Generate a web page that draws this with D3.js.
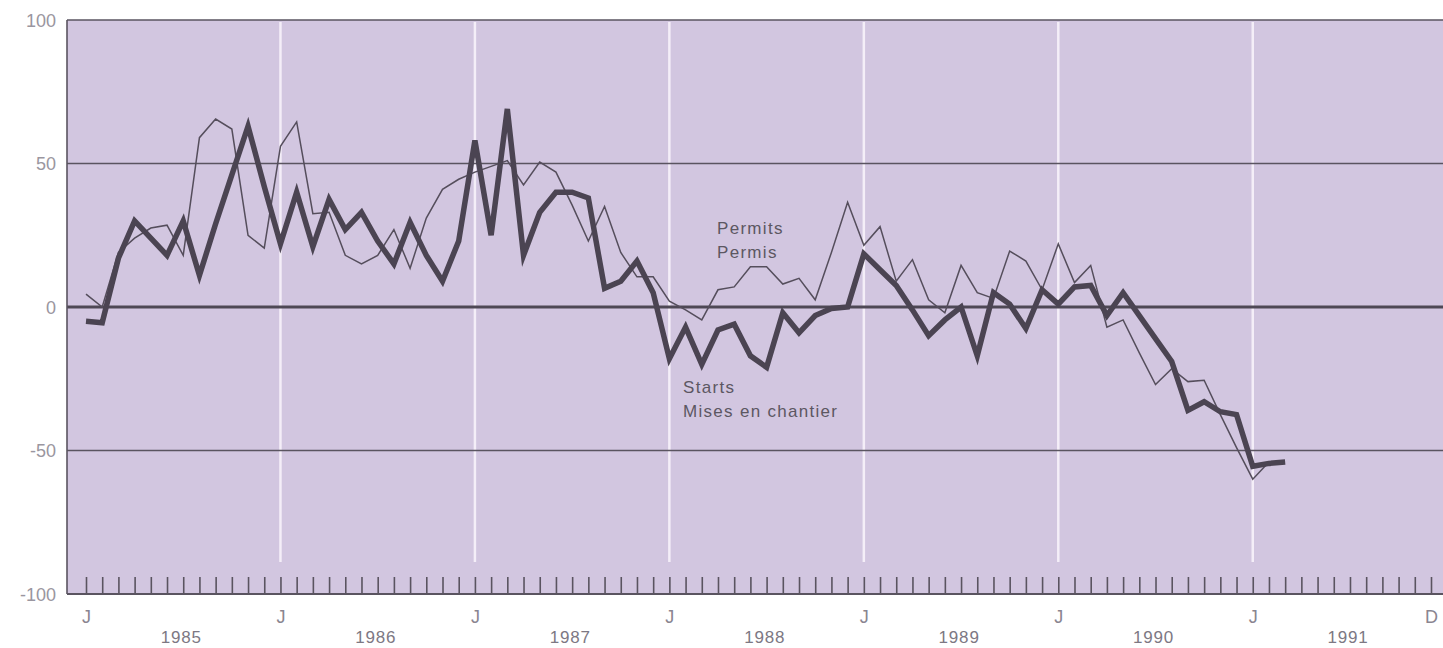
<!DOCTYPE html>
<html><head><meta charset="utf-8">
<script src="https://cdn.jsdelivr.net/npm/d3@7/dist/d3.min.js"></script>
<style>body{margin:0;background:#fff;overflow:hidden}</style>
</head><body><svg id="c" width="1443" height="648"></svg>
<script>
// Monthly % change, starting January 1985
const starts = [-5,-5.5,17,30,24,18,30,11,29,46,63,42,
  22,40,21,37.5,27,33,23,15,29.5,18,9,23,
  58,25,69,18,33,40,40,38,6.5,9,16,5,
  -18,-7,-20,-8,-6,-17,-21,-2,-9,-3,-0.5,0,
  18.5,13,7.5,-1,-10,-4.5,0,-17,5,1,-7.5,6,
  1,7,7.5,-3,5,-3,-11,-19,-36,-33,-36.5,-37.5,
  -55.5,-54.5,-54];
const permits = [4.5,0,19,24,27.5,28.5,18,59,65.5,62,25,20.5,
  56,64.5,32.5,33,18,15,18,27,13.5,31,41,44.5,
  47,49,51,42.5,50.5,47,35.5,23,35,19,10.5,10.5,
  2,-1,-4.5,6,7,14,14,8,10,2.5,19,36.5,
  21.5,28,9,16.5,2.5,-2,14.5,5,3,19.5,16,6,
  22,8.5,14.5,-7,-4.5,-16,-27,-21.5,-26,-25.5,-37.5,-49,
  -60,-54];
const yTicks = [100,50,0,-50,-100];
const gridValues = [50,-50];
const years = ["1985","1986","1987","1988","1989","1990","1991"];
const monthLabelIdx = [0,12,24,36,48,60,72,83];
const monthLabelText = ["J","J","J","J","J","J","J","D"];

const W = 1443, H = 648;
const svg = d3.select("#c");
const x = d3.scaleLinear().domain([0,83]).range([86,1431]);
const y = d3.scaleLinear().domain([-100,100]).range([594,20]);
const left = 67, right = W;

const bg = "#d2c6e0", ink = "#4b4452", grey = "#8a8590";
const font = "'Liberation Sans', Arial, Helvetica, sans-serif";

// background
svg.append("rect").attr("x",left).attr("y",y(100)).attr("width",right-left).attr("height",y(-100)-y(100)).attr("fill",bg);

// white January lines
svg.append("g").selectAll("line").data(d3.range(12,84,12)).join("line")
  .attr("x1",d=>x(d)).attr("x2",d=>x(d)).attr("y1",y(100)+2).attr("y2",562)
  .attr("stroke","#f4eef8").attr("stroke-width",2.5);

// horizontal grid lines
svg.append("g").selectAll("line").data(gridValues).join("line")
  .attr("x1",left).attr("x2",right).attr("y1",d=>y(d)).attr("y2",d=>y(d))
  .attr("stroke","#5a5460").attr("stroke-width",1.6);
// zero line
svg.append("line").attr("x1",left).attr("x2",right).attr("y1",y(0)).attr("y2",y(0))
  .attr("stroke","#4e4855").attr("stroke-width",2.8);
// frame top, left
svg.append("line").attr("x1",left).attr("x2",right).attr("y1",y(100)).attr("y2",y(100)).attr("stroke","#5a5460").attr("stroke-width",1.6);
svg.append("line").attr("x1",left).attr("x2",left).attr("y1",y(100)).attr("y2",y(-100)).attr("stroke","#5a5460").attr("stroke-width",1.6);

// month ticks via axis
const tickAxis = d3.axisBottom(x).tickValues(d3.range(0,84)).tickSize(-17).tickFormat("");
const tg = svg.append("g").attr("transform",`translate(0,${y(-100)})`).call(tickAxis);
tg.select(".domain").remove();
tg.selectAll(".tick line").attr("stroke","#5a5460").attr("stroke-width",1.6);
svg.append("line").attr("x1",left).attr("x2",right).attr("y1",y(-100)).attr("y2",y(-100)).attr("stroke","#5a5460").attr("stroke-width",2);

// month letters
const mAxis = d3.axisBottom(x).tickValues(monthLabelIdx).tickSize(0).tickPadding(0)
  .tickFormat((d,i)=>monthLabelText[i]);
const mg = svg.append("g").attr("transform",`translate(0,610)`).call(mAxis);
mg.select(".domain").remove();
mg.selectAll("text").attr("font-family",font).attr("font-size",18).attr("fill",grey).attr("dy","0.35em").attr("y",7);

// years
const yearAxis = d3.axisBottom(x).tickValues(years.map((d,i)=>i*12+5.85)).tickSize(0).tickPadding(0)
  .tickFormat((d,i)=>years[i]);
const yg = svg.append("g").attr("transform",`translate(0,631)`).call(yearAxis);
yg.select(".domain").remove();
yg.selectAll("text").attr("font-family",font).attr("font-size",17).attr("fill","#7d7883").attr("letter-spacing","0.8px").attr("dy","0.35em").attr("y",6);

// y labels
const yAxis = d3.axisLeft(y).tickValues(yTicks).tickSize(0).tickPadding(0).tickFormat(d=>String(d));
const ya = svg.append("g").attr("transform","translate(56,0)").call(yAxis);
ya.select(".domain").remove();
ya.selectAll("text").attr("font-family",font).attr("font-size",18).attr("fill","#9a96a0").attr("dy","0.35em");

// series
const line = d3.line().x((d,i)=>x(i)).y(d=>y(d));
svg.append("path").datum(permits).attr("d",line).attr("fill","none")
  .attr("stroke","#554e5c").attr("stroke-width",1.5).attr("stroke-linejoin","miter");
svg.append("path").datum(starts).attr("d",line).attr("fill","none")
  .attr("stroke",ink).attr("stroke-width",5.5).attr("stroke-linejoin","miter").attr("stroke-miterlimit",6);

// annotations
const ann = [
  {t:"Permits", x:717, y:234},
  {t:"Permis", x:717, y:258},
  {t:"Starts", x:683, y:393},
  {t:"Mises en chantier", x:683, y:417}
];
svg.append("g").selectAll("text").data(ann).join("text")
  .attr("x",d=>d.x).attr("y",d=>d.y).text(d=>d.t)
  .attr("font-family",font).attr("font-size",17).attr("letter-spacing","1.3px").attr("fill","#5c5762");
</script></body></html>
